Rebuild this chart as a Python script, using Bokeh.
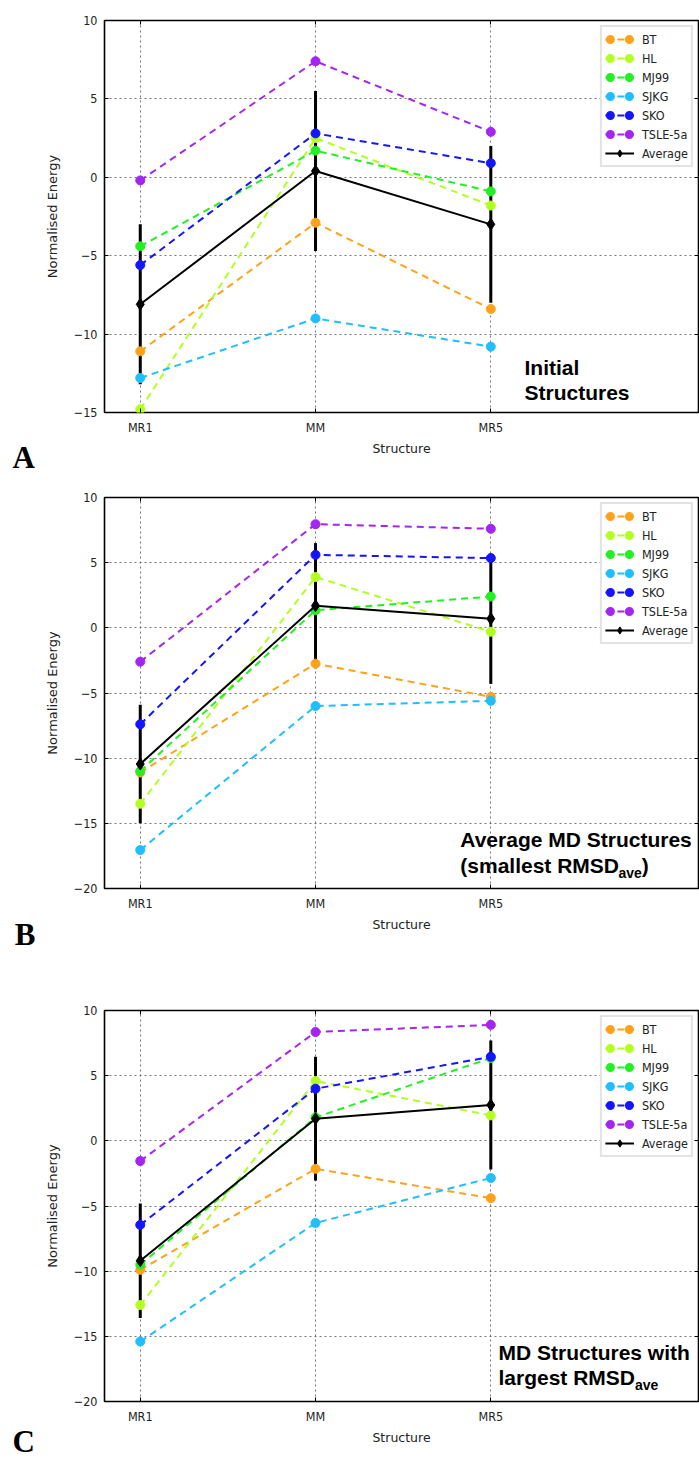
from bokeh.plotting import figure
from bokeh.layouts import column
from bokeh.models import (Range1d, FixedTicker, LinearAxis, Legend, LegendItem,
                          Label)
from bokeh.embed import file_html
from bokeh.resources import INLINE

# ---------------------------------------------------------------- data
structures = ["MR1", "MM", "MR5"]
potentials = ["BT", "HL", "MJ99", "SJKG", "SKO", "TSLE-5a"]
colors = ["#ffa21a", "#b2ff22", "#22f022", "#1ebeff", "#1414ff", "#a424f2"]

# A: initial structures
bt_a = [-11.1, -2.9, -8.4]
hl_a = [-14.8, 2.5, -1.8]
mj99_a = [-4.4, 1.7, -0.9]
sjkg_a = [-12.8, -9.0, -10.8]
sko_a = [-5.6, 2.8, 0.9]
tsle_a = [-0.2, 7.4, 2.9]
avg_a = [-8.1, 0.4, -3.0]
err_a = [5.1, 5.1, 5.0]

# B: average MD structures
bt_b = [-11.1, -2.75, -5.3]
hl_b = [-13.5, 3.9, -0.3]
mj99_b = [-11.0, 1.35, 2.4]
sjkg_b = [-17.05, -6.0, -5.6]
sko_b = [-7.4, 5.6, 5.35]
tsle_b = [-2.6, 7.95, 7.6]
avg_b = [-10.45, 1.7, 0.7]
err_b = [4.55, 4.8, 5.0]

# C: MD structures with largest RMSD
bt_c = [-9.9, -2.15, -4.4]
hl_c = [-12.6, 4.6, 1.95]
mj99_c = [-9.5, 1.8, 6.35]
sjkg_c = [-15.4, -6.3, -2.85]
sko_c = [-6.45, 4.0, 6.45]
tsle_c = [-1.55, 8.35, 8.9]
avg_c = [-9.2, 1.7, 2.75]
err_c = [4.4, 4.75, 4.95]

X_START, X_END = -0.204, 3.185
TICK_FONT = "DejaVu Sans Condensed"
MINUS = "\u2212"
NAN = float("nan")


def ylabel(v):
    return (MINUS + str(-v)) if v < 0 else str(v)


def make_panel(series, avg, err, y_min, height, top, left, bottom,
               letter, letter_pos, captions):
    """captions: list of (text, px_x, px_y, font_px) in panel pixels."""
    y_max = 10
    width = 699
    right = 1
    p = figure(width=width, height=height,
               x_range=Range1d(X_START, X_END), y_range=Range1d(y_min, y_max),
               output_backend="svg", toolbar_location=None,
               min_border_left=left, min_border_right=right,
               min_border_top=top, min_border_bottom=bottom,
               background_fill_color="white", border_fill_color="white")
    p.outline_line_color = "black"
    p.outline_line_width = 1.6

    frame_w = width - left - right
    frame_h = height - top - bottom
    sx = frame_w / (X_END - X_START)
    sy = frame_h / (y_max - y_min)

    def dx(px):
        return X_START + (px - left) / sx

    def dy(py):
        return y_max - (py - top) / sy

    xs = list(range(len(structures)))
    yticks = list(range(y_min, y_max + 1, 5))

    # bottom axis
    xa = p.xaxis[0]
    xa.ticker = FixedTicker(ticks=xs)
    xa.major_label_overrides = {i: s for i, s in enumerate(structures)}
    xa.axis_label = "Structure"
    # left axis
    ya = p.yaxis[0]
    ya.ticker = FixedTicker(ticks=yticks)
    ya.major_label_overrides = {v: ylabel(v) for v in yticks}
    ya.axis_label = "Normalised Energy"

    for ax in (xa, ya):
        ax.axis_line_color = None
        ax.major_tick_in = 4
        ax.major_tick_out = 0
        ax.major_tick_line_color = "black"
        ax.minor_tick_line_color = None
        ax.major_label_text_font = TICK_FONT
        ax.major_label_text_font_size = "12.5px"
        ax.major_label_text_color = "#222222"
        ax.axis_label_text_font = "DejaVu Sans"
        ax.axis_label_text_font_style = "normal"
        ax.axis_label_text_color = "#222222"
        ax.major_label_standoff = 7
    xa.axis_label_text_font_size = "12.5px"
    xa.axis_label_standoff = 3
    ya.axis_label_text_font_size = "13px"
    ya.axis_label_standoff = 11

    # mirrored tick marks on the top and right edges (no labels)
    top_ax = LinearAxis(ticker=FixedTicker(ticks=xs),
                        major_label_overrides={i: "" for i in xs})
    right_ax = LinearAxis(ticker=FixedTicker(ticks=yticks),
                          major_label_overrides={v: "" for v in yticks})
    for ax in (top_ax, right_ax):
        ax.axis_line_color = None
        ax.major_tick_in = 4
        ax.major_tick_out = 0
        ax.minor_tick_line_color = None
        ax.major_label_text_font_size = "8px"
        ax.major_label_standoff = 0
    p.add_layout(top_ax, "above")
    p.add_layout(right_ax, "right")

    # dotted grid
    for g in (p.xgrid[0], p.ygrid[0]):
        g.grid_line_color = "#555555"
        g.grid_line_alpha = 0.8
        g.grid_line_dash = "2 3"
        g.grid_line_width = 1

    # error bars of the average
    lo = [a - e for a, e in zip(avg, err)]
    hi = [a + e for a, e in zip(avg, err)]
    p.segment(x0=xs, y0=lo, x1=xs, y1=hi, line_color="black", line_width=3)

    items = []
    for name, color, vals in zip(potentials, colors, series):
        lr = p.line(xs, vals, line_color=color, line_width=2, line_dash="7 5")
        p.scatter(xs, vals, marker="circle", size=9,
                  fill_color=color, line_color=color)
        # legend key only (draws nothing in the plot): round dots at both
        # ends of the key line
        key = p.line(x=[NAN], y=[NAN], line_color=color, line_width=9,
                     line_cap="round", line_dash="0 19", line_dash_offset=-5)
        items.append(LegendItem(label=name, renderers=[lr, key]))

    lr = p.line(xs, avg, line_color="black", line_width=2)
    sr = p.scatter(xs, avg, marker="diamond", size=12,
                   fill_color="black", line_color="black")
    items.append(LegendItem(label="Average", renderers=[lr, sr]))

    legend = Legend(items=items, location="top_right", margin=5,
                    padding=3, spacing=1, glyph_width=29, glyph_height=18,
                    label_height=18, label_standoff=8,
                    label_text_font=TICK_FONT, label_text_font_size="12.5px",
                    label_text_color="#222222",
                    border_line_color="#c8c8c8", border_line_width=2,
                    background_fill_color="white", background_fill_alpha=1)
    p.add_layout(legend)

    # label anchor sits ~0.4 em above the visible baseline
    for text, px, py, fs in captions:
        p.add_layout(Label(x=dx(px), y=dy(py - 0.4 * fs), text=text,
                           text_font="Liberation Sans", text_font_style="bold",
                           text_font_size=f"{fs}px", text_color="black",
                           text_baseline="alphabetic", text_align="left"))

    # panel letter sits in the left margin, outside the plotting frame
    p.add_layout(Label(x=dx(letter_pos[0]), y=dy(letter_pos[1]), text=letter,
                       text_font="Liberation Serif", text_font_style="bold",
                       text_font_size="31px", text_color="black",
                       text_baseline="alphabetic", text_align="left"),
                 "left")
    return p


BIG = 21
SUB = 14
W_SMALLEST = 7.557 * BIG      # width of "(smallest RMSD"
W_LARGEST = 6.501 * BIG       # width of "largest RMSD"
W_AVE = 1.668 * SUB           # width of "ave"

pa = make_panel([bt_a, hl_a, mj99_a, sjkg_a, sko_a, tsle_a], avg_a, err_a,
                -15, 480, 20, 104, 68, "A", (12, 457),
                [("Initial", 524, 375, BIG),
                 ("Structures", 524, 400, BIG)])

pb = make_panel([bt_b, hl_b, mj99_b, sjkg_b, sko_b, tsle_b], avg_b, err_b,
                -20, 480, 17, 102, 72, "B", (12, 454),
                [("Average MD Structures", 459, 367.5, BIG),
                 ("(smallest RMSD", 459, 393, BIG),
                 ("ave", 459 + W_SMALLEST, 398, SUB),
                 (")", 459 + W_SMALLEST + W_AVE, 393, BIG)])

pc = make_panel([bt_c, hl_c, mj99_c, sjkg_c, sko_c, tsle_c], avg_c, err_c,
                -20, 499, 50, 104, 58, "C", (12, 481),
                [("MD Structures with", 498, 400, BIG),
                 ("largest RMSD", 498, 425, BIG),
                 ("ave", 498 + W_LARGEST, 430, SUB)])

layout = column(pa, pb, pc, spacing=0)
open("out.html", "w").write(file_html(layout, INLINE, title="Normalised Energy"))
